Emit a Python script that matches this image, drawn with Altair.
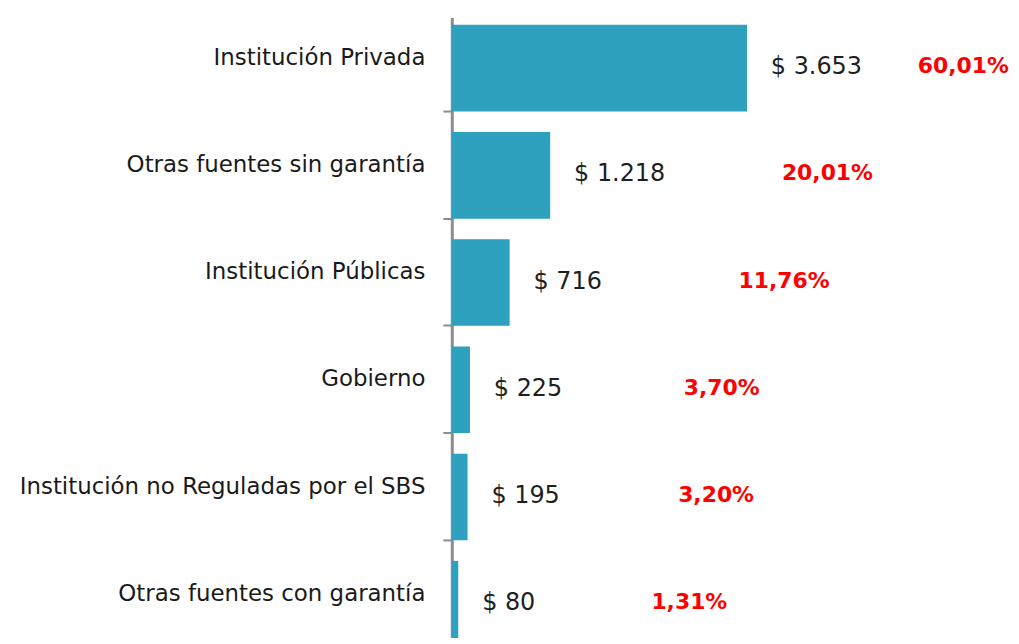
import altair as alt
import pandas as pd

categories = [
    "Institución Privada",
    "Otras fuentes sin garantía",
    "Institución Públicas",
    "Gobierno",
    "Institución no Reguladas por el SBS",
    "Otras fuentes con garantía",
]
values = [3653, 1218, 716, 225, 195, 80]
value_labels = ["$ 3.653", "$ 1.218", "$ 716", "$ 225", "$ 195", "$ 80"]
percents = [60.01, 20.01, 11.76, 3.70, 3.20, 1.31]
percent_labels = ["60,01%", "20,01%", "11,76%", "3,70%", "3,20%", "1,31%"]

df = pd.DataFrame({
    "cat": categories,
    "value": values,
    "vlabel": value_labels,
    "pct": percents,
    "plabel": percent_labels,
})

FONT = "DejaVu Sans"

y_enc = alt.Y(
    "cat:N",
    sort=categories,
    scale=alt.Scale(range=[0, 646.5], paddingInner=0, paddingOuter=0),
    axis=alt.Axis(
        title=None,
        labelFont=FONT,
        labelFontSize=23,
        labelColor="#1a1a1a",
        labelPadding=18,
        labelLimit=440,
        tickSize=9,
        tickWidth=2,
        tickColor="#8c8c8c",
        tickOffset=40,
        labelOffset=-54,
        domainColor="#8c8c8c",
        domainWidth=3,
        grid=False,
    ),
)

x_val = alt.X("value:Q", scale=alt.Scale(domain=[0, 6920], nice=False), axis=None)

bars = alt.Chart(df).mark_bar(color="#2DA1BD", height=87, yOffset=-3).encode(
    x=x_val,
    y=y_enc,
)

vtext = alt.Chart(df).mark_text(
    align="left", baseline="middle", dx=24, dy=-4,
    font=FONT, fontSize=24, color="#1f1f1f",
).encode(
    x=x_val,
    y=alt.Y("cat:N", sort=categories),
    text="vlabel:N",
)

ptext = alt.Chart(df).mark_text(
    align="center", baseline="middle", dy=-5,
    font=FONT, fontSize=22, fontWeight="bold", color="#FF0000",
).encode(
    x=alt.X("pct:Q", scale=alt.Scale(type="sqrt", domain=[0, 100], range=[191, 608], nice=False), axis=None),
    y=alt.Y("cat:N", sort=categories),
    text="plabel:N",
)

chart = (
    alt.layer(bars, vtext, ptext)
    .resolve_scale(x="independent")
    .properties(
        width=562,
        height=622,
        autosize=alt.AutoSizeParams(type="none"),
        padding={"left": 446, "top": 8, "right": 0, "bottom": 0},
        background="white",
    )
    .configure_view(strokeWidth=0)
)

chart.save("out.html", embed_options={"renderer": "svg", "actions": False})
